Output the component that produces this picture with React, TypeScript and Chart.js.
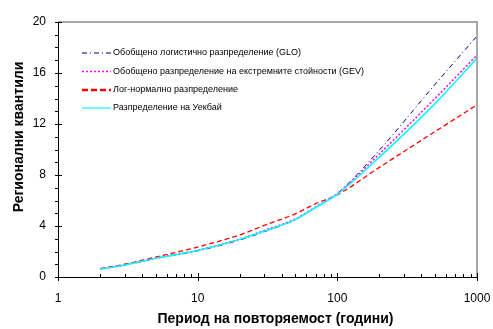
import React, { useEffect, useRef } from "react";
import { Chart, registerables } from "chart.js";

Chart.register(...registerables);

const returnPeriods = [2, 3, 5, 10, 20, 30, 50, 70, 100, 200, 500, 1000];
const gloValues = [0.63, 0.93, 1.45, 2.05, 2.9, 3.55, 4.5, 5.45, 6.55, 9.95, 15.1, 18.9];
const gevValues = [0.63, 0.95, 1.48, 2.1, 2.97, 3.65, 4.55, 5.5, 6.55, 9.65, 14.0, 17.4];
const lnValues = [0.66, 1.0, 1.56, 2.35, 3.3, 4.05, 4.95, 5.75, 6.45, 8.6, 11.4, 13.5];
const wakebyValues = [0.63, 0.94, 1.46, 2.08, 2.95, 3.6, 4.5, 5.45, 6.5, 9.4, 13.6, 17.15];

const seriesLabels = [
  "Обобщено логистично разпределение (GLO)",
  "Обобщено разпределение на екстремните стойности (GEV)",
  "Лог-нормално разпределение",
  "Разпределение на Уекбай",
];

const xTickLabels = [1, 10, 100, 1000];
const yTickLabels = [0, 4, 8, 12, 16, 20];
const xTitle = "Период на повторяемост (години)";
const yTitle = "Регионални квантили";

const FONT = "'Liberation Sans', Arial, sans-serif";

const legendStyles = [
  { color: "#000080", dash: [5, 3, 1, 3], width: 1 },
  { color: "#ff00ff", dash: [2, 2], width: 1.5 },
  { color: "#ff0000", dash: [6, 3], width: 2.5 },
  { color: "#00ffff", dash: [], width: 1.2 },
];

const decorPlugin = {
  id: "decor",
  afterDraw(chart: any) {
    const ctx = chart.ctx as CanvasRenderingContext2D;
    const area = chart.chartArea;
    const xs = chart.scales.x;
    const ys = chart.scales.y;
    ctx.save();
    ctx.strokeStyle = "#a8a8a8";
    ctx.lineWidth = 2;
    ctx.beginPath();
    ctx.moveTo(area.left, area.top);
    ctx.lineTo(area.right, area.top);
    ctx.lineTo(area.right, area.bottom);
    ctx.stroke();
    ctx.strokeStyle = "#000";
    ctx.lineWidth = 1;
    ctx.beginPath();
    ctx.moveTo(area.left + 0.5, area.top);
    ctx.lineTo(area.left + 0.5, area.bottom + 0.5);
    ctx.lineTo(area.right, area.bottom + 0.5);
    ctx.stroke();
    ctx.beginPath();
    for (let v = 0; v <= 20; v++) {
      const py = Math.round(ys.getPixelForValue(v)) + 0.5;
      const major = v % 4 === 0;
      ctx.moveTo(area.left - 3, py);
      ctx.lineTo(area.left + (major ? 4 : 0.5), py);
    }
    for (let d = 1; d <= 1000; d *= 10) {
      for (let m = 1; m <= 9; m++) {
        const v = d * m;
        if (v > 1000) break;
        const px = Math.round(xs.getPixelForValue(v)) + 0.5;
        if (m === 1) {
          ctx.moveTo(px, area.bottom - 4);
          ctx.lineTo(px, area.bottom + 4);
        } else {
          ctx.moveTo(px, area.bottom - 3);
          ctx.lineTo(px, area.bottom + 0.5);
        }
      }
    }
    ctx.stroke();
    ctx.fillStyle = "#000";
    ctx.font = `12px ${FONT}`;
    ctx.textAlign = "right";
    ctx.textBaseline = "middle";
    yTickLabels.forEach((v) => {
      ctx.fillText(String(v), area.left - 12, ys.getPixelForValue(v));
    });
    ctx.textAlign = "center";
    ctx.textBaseline = "middle";
    xTickLabels.forEach((v) => {
      ctx.fillText(String(v), xs.getPixelForValue(v), area.bottom + 22);
    });
    ctx.font = `bold 14px ${FONT}`;
    ctx.fillText(xTitle, (area.left + area.right) / 2 + 8, area.bottom + 42);
    ctx.save();
    ctx.translate(19, 137);
    ctx.rotate(-Math.PI / 2);
    ctx.fillText(yTitle, 0, 0);
    ctx.restore();
    const rows = [53, 71.5, 90, 108];
    ctx.font = `9px ${FONT}`;
    ctx.textAlign = "left";
    seriesLabels.forEach((label, i) => {
      const st = legendStyles[i];
      ctx.save();
      ctx.strokeStyle = st.color;
      ctx.lineWidth = st.width;
      ctx.setLineDash(st.dash);
      ctx.beginPath();
      ctx.moveTo(82, rows[i]);
      ctx.lineTo(111, rows[i]);
      ctx.stroke();
      ctx.restore();
      ctx.fillStyle = "#000";
      ctx.fillText(label, 113, rows[i]);
    });
    ctx.restore();
  },
};

export default function App() {
  const ref = useRef<HTMLCanvasElement>(null);
  useEffect(() => {
    document.body.style.margin = "0";
    const toPts = (vals: number[]) => returnPeriods.map((t, i) => ({ x: t, y: vals[i] }));
    const chart = new Chart(ref.current!, {
      type: "line",
      data: {
        datasets: [
          {
            label: seriesLabels[0],
            data: toPts(gloValues),
            borderColor: "#000080",
            borderWidth: 1,
            borderDash: [5, 3, 1, 3],
            order: 3,
          },
          {
            label: seriesLabels[1],
            data: toPts(gevValues),
            borderColor: "#ff00ff",
            borderWidth: 1.5,
            borderDash: [2, 2],
            order: 2,
          },
          {
            label: seriesLabels[2],
            data: toPts(lnValues),
            borderColor: "#ff0000",
            borderWidth: 1.3,
            borderDash: [5, 3],
            order: 4,
          },
          {
            label: seriesLabels[3],
            data: toPts(wakebyValues),
            borderColor: "#00ffff",
            borderWidth: 1.5,
            order: 1,
          },
        ] as any,
      },
      options: {
        animation: false,
        responsive: false,
        devicePixelRatio: 1,
        layout: { padding: { left: 58, top: 22, right: 16, bottom: 52 } },
        elements: {
          point: { radius: 0, hoverRadius: 0 },
          line: { cubicInterpolationMode: "monotone", fill: false },
        },
        plugins: { legend: { display: false }, tooltip: { enabled: false } },
        scales: {
          x: { type: "logarithmic", min: 1, max: 1000, display: false },
          y: { type: "linear", min: 0, max: 20, display: false },
        },
      },
      plugins: [decorPlugin],
    });
    return () => chart.destroy();
  }, []);
  return <canvas ref={ref} width={493} height={329} style={{ display: "block" }} />;
}
